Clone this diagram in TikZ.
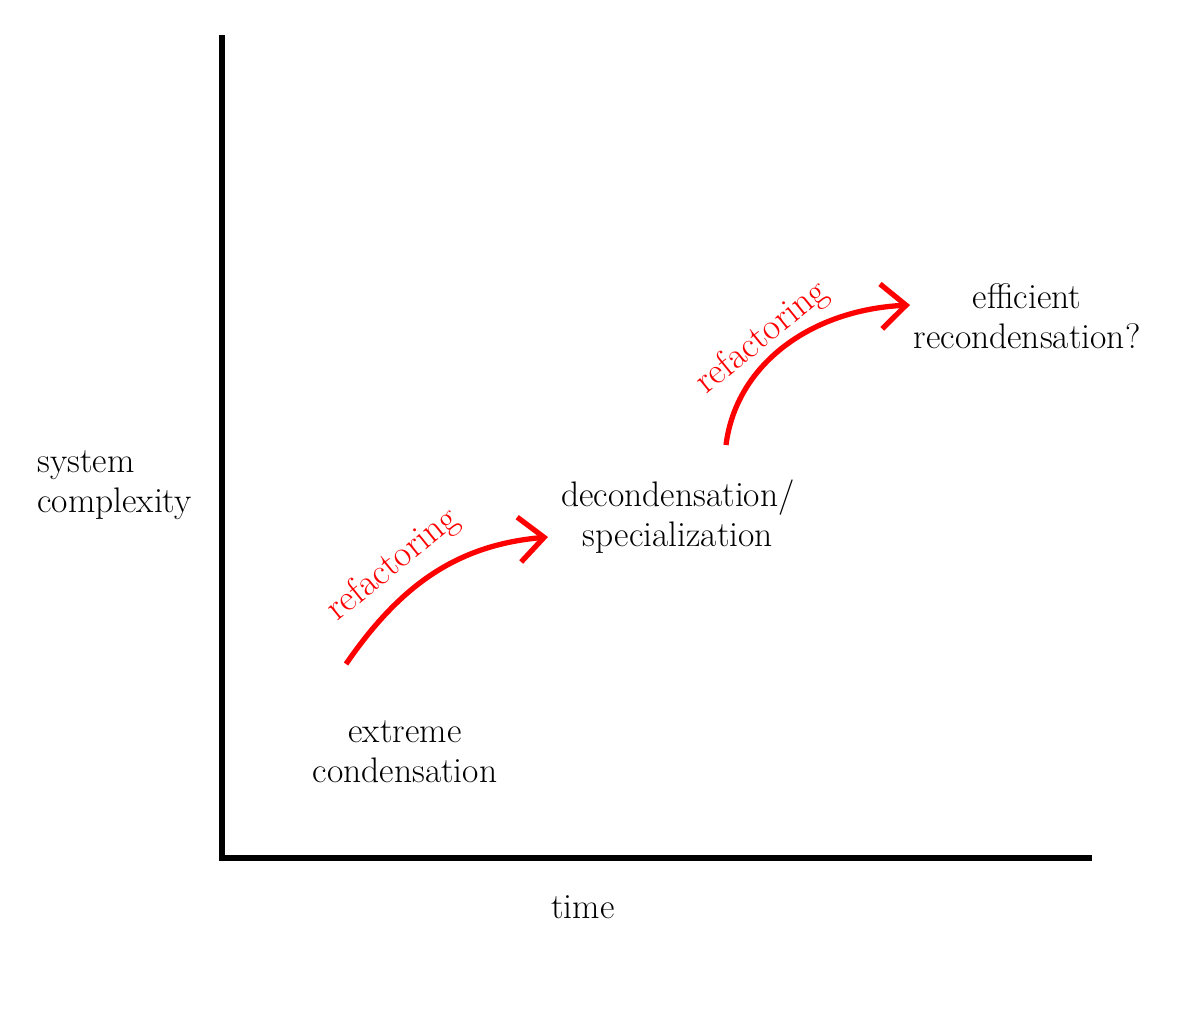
\documentclass[tikz,border=0pt]{standalone}
\usepackage{tikz}
\usetikzlibrary{arrows.meta}

\begin{document}
\begin{tikzpicture}[x=0.02cm,y=-0.02cm]
      \tikzset{lbl/.style={font=\fontsize{20.2}{22.8}\selectfont,align=center,inner sep=0pt},
               refac/.style={font=\fontsize{21}{24}\selectfont,inner sep=0pt,text=red,rotate=39},
               axis/.style={line width=3.4pt,line join=miter},
               step arrow/.style={red,line width=3pt,-{Straight Barb[length=0.5cm,width=0.9cm,line width=3pt]}}}
      \useasboundingbox (0,0) rectangle (1200,1008);
      \coordinate (top) at (222,35);
      \coordinate (o) at (222,858);
      \coordinate (right) at (1092,858);
      \draw[axis] (top) -- (o) -- (right);
      \node[lbl,align=left,anchor=west] (cplx) at (37,485) {system\\complexity};
      \node[lbl] (time) at (583,907) {time};
      \node[lbl] (ext) at (405,752) {extreme\\condensation};
      \node[lbl] (dec) at (678,517) {decondensation/\\specialization};
      \node[lbl] (eff) at (1027,316) {efficient\\recondensation?};
      \coordinate (a1) at (346,664);
      \coordinate (b1) at (548,537);
      \coordinate (a2) at (726,445);
      \coordinate (b2) at (910,305);
      \draw[step arrow] (a1).. controls +(55,-80) and +(-90,8)..(b1);
      \draw[step arrow] (a2).. controls +(10,-80) and +(-100,5)..(b2);
      \node[refac] (r1) at (393,565) {refactoring};
      \node[refac] (r2) at (762,338) {refactoring};
    \end{tikzpicture}
\end{document}
